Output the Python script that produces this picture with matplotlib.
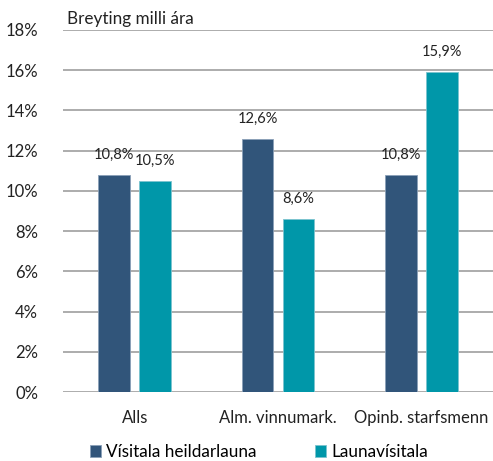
import matplotlib
matplotlib.use("Agg")
import matplotlib.pyplot as plt
import numpy as np
from matplotlib.ticker import FuncFormatter

categories = ["Alls", "Alm. vinnumark.", "Opinb. starfsmenn"]
series_names = ["Vísitala heildarlauna", "Launavísitala"]
visitala_heildarlauna = [10.8, 12.6, 10.8]
launavisitala = [10.5, 8.6, 15.9]
yticks = [0, 2, 4, 6, 8, 10, 12, 14, 16, 18]
title = "Breyting milli ára"

plt.rcParams['font.family'] = ['Lato', 'DejaVu Sans']

fig = plt.figure(figsize=(4.93, 4.61), dpi=100)
ax = fig.add_axes([63/493, 1 - 392/461, 430/493, 362/461])

x = np.arange(len(categories))
w = 0.223
off = 0.143
colors = ["#31557A", "#0097A9"]
b1 = ax.bar(x - off, visitala_heildarlauna, w, color=colors[0], edgecolor="#8aa0b8", linewidth=0.6, label=series_names[0], zorder=3)
b2 = ax.bar(x + off, launavisitala, w, color=colors[1], edgecolor="#7cc4cf", linewidth=0.6, label=series_names[1], zorder=3)

for bars, vals in [(b1, visitala_heildarlauna), (b2, launavisitala)]:
    for r, v in zip(bars, vals):
        ax.annotate(f"{v:.1f}%".replace(".", ","), (r.get_x() + r.get_width()/2, v),
                    xytext=(0, 14.5), textcoords="offset points", ha="center", va="center",
                    fontsize=10.5, color="#222222")

ax.set_xlim(-0.5, 2.5)
ax.set_ylim(0, 18)
ax.set_yticks(yticks)
ax.yaxis.set_major_formatter(FuncFormatter(lambda v, p: f"{v:.0f}%"))
ax.grid(axis="y", color="#a6a6a6", linewidth=1.3, zorder=0)
for s in ax.spines.values():
    s.set_visible(False)
ax.tick_params(axis="both", length=0, labelsize=12, colors="#222222")
ax.tick_params(axis="y", pad=18)
ax.tick_params(axis="x", pad=13)
ax.set_xticks(x)
ax.set_xticklabels(categories)

fig.text(67/493, 1 - 19/461, title, fontsize=12.3, ha="left", va="center", color="#222222")

fig.legend(handles=[b1, b2], labels=series_names, loc="center", bbox_to_anchor=(259/493, 1 - 452/461),
           ncol=2, frameon=False, fontsize=12.3, handlelength=0.65, handleheight=0.65,
           handletextpad=0.3, columnspacing=3.4)

fig.savefig("out.png", dpi=100)
